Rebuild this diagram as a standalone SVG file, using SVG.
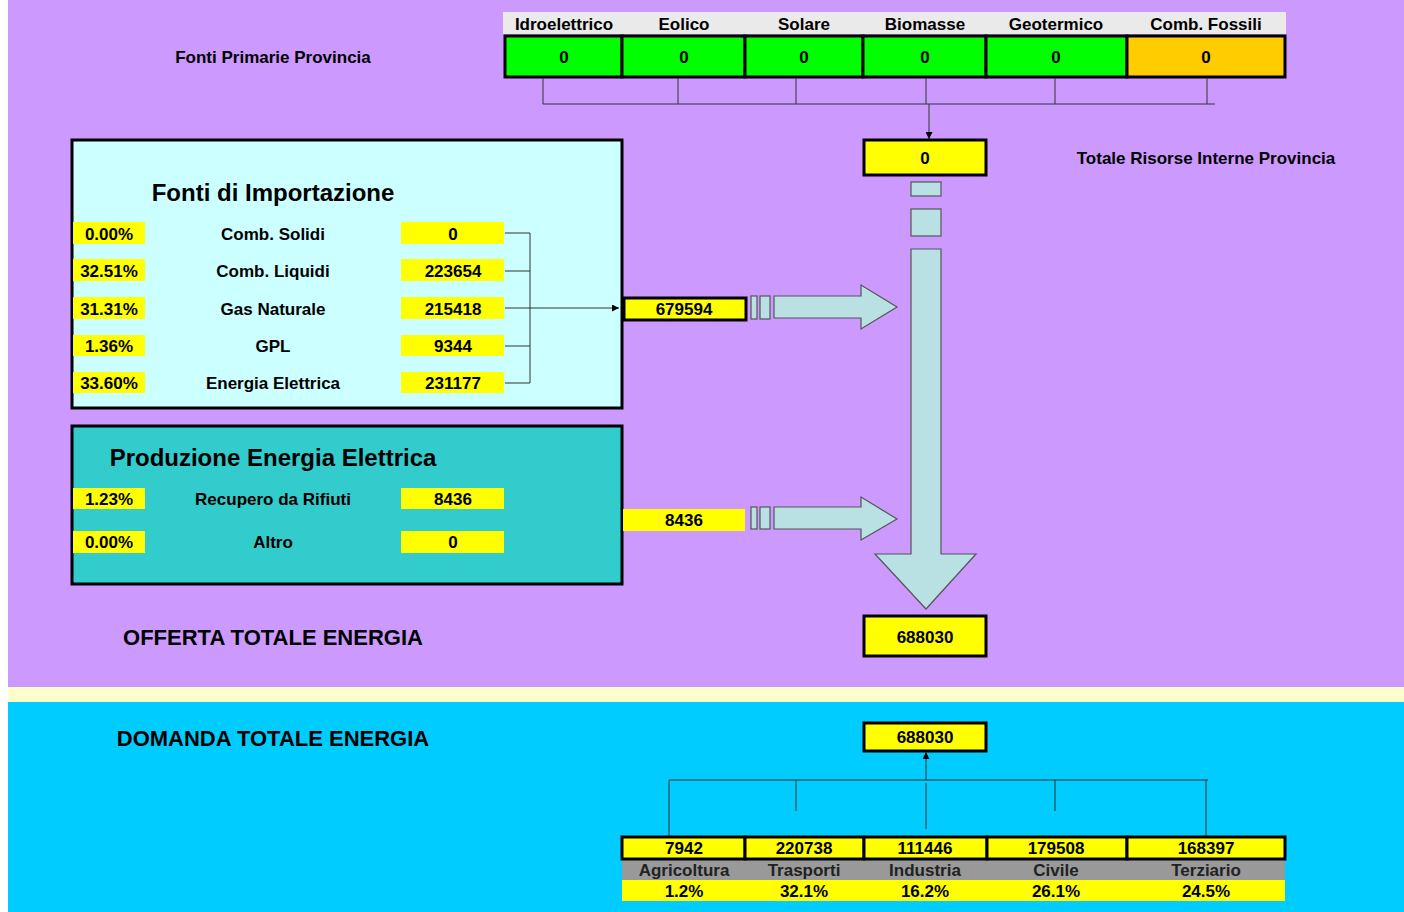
<svg xmlns="http://www.w3.org/2000/svg" width="1404" height="912" viewBox="0 0 1404 912">
<defs>
<marker id="ah" viewBox="0 0 8 8" refX="8" refY="4" markerWidth="7" markerHeight="7" markerUnits="userSpaceOnUse" orient="auto"><path d="M0,0 L8,4 L0,8 z" fill="#000"/></marker>
<style>
text{font-family:"Liberation Sans",Arial,sans-serif;font-weight:bold;fill:#000;text-anchor:middle}
.s{font-size:17px}
.t{font-size:24px}
.b{font-size:22px}
.cell{fill:#FFFF00;stroke:#000;stroke-width:3}
.green{fill:#00FF00;stroke:#000;stroke-width:3}
.orange{fill:#FFCC00;stroke:#000;stroke-width:3}
.y{fill:#FFFF00}
.ln{stroke:#333;stroke-width:1;fill:none}
.arr{fill:#B9E0E3;stroke:#555;stroke-width:1.2}
.gl{fill:#222}
</style>
</defs>
<rect x="0" y="0" width="1404" height="912" fill="#FFFFFF"/>
<rect x="8" y="0" width="1396" height="687" fill="#CC99FF"/>
<rect x="8" y="687" width="1396" height="15" fill="#FFFFCC"/>
<rect x="8" y="702" width="1396" height="210" fill="#00CCFF"/>

<g id="fonti-primarie">
<text class="s" x="273" y="63">Fonti Primarie Provincia</text>
<rect x="503" y="12" width="783" height="22" fill="#EAEAEA"/>
<text class="s" x="564" y="30">Idroelettrico</text>
<text class="s" x="684" y="30">Eolico</text>
<text class="s" x="804" y="30">Solare</text>
<text class="s" x="925" y="30">Biomasse</text>
<text class="s" x="1056" y="30">Geotermico</text>
<text class="s" x="1206" y="30">Comb. Fossili</text>
<rect class="green" x="505" y="36" width="117" height="41"/>
<rect class="green" x="622" y="36" width="123" height="41"/>
<rect class="green" x="745" y="36" width="118" height="41"/>
<rect class="green" x="863" y="36" width="123" height="41"/>
<rect class="green" x="986" y="36" width="141" height="41"/>
<rect class="orange" x="1127" y="36" width="158" height="41"/>
<text class="s" x="564" y="63">0</text>
<text class="s" x="684" y="63">0</text>
<text class="s" x="804" y="63">0</text>
<text class="s" x="925" y="63">0</text>
<text class="s" x="1056" y="63">0</text>
<text class="s" x="1206" y="63">0</text>
</g>

<g id="risorse-interne">
<rect class="cell" x="864" y="140" width="122" height="35"/>
<text class="s" x="925" y="164">0</text>
<text class="s" x="1206" y="164">Totale Risorse Interne Provincia</text>
</g>

<g id="importazione">
<rect x="72" y="140" width="550" height="268" fill="#CCFFFF" stroke="#000" stroke-width="3"/>
<text class="t" x="273" y="201">Fonti di Importazione</text>
<rect class="y" x="73" y="222" width="72" height="22"/>
<rect class="y" x="73" y="259" width="72" height="22"/>
<rect class="y" x="73" y="297" width="72" height="22"/>
<rect class="y" x="73" y="335" width="72" height="21"/>
<rect class="y" x="73" y="372" width="72" height="21"/>
<rect class="y" x="401" y="222" width="103" height="22"/>
<rect class="y" x="401" y="259" width="103" height="22"/>
<rect class="y" x="401" y="297" width="103" height="22"/>
<rect class="y" x="401" y="335" width="103" height="21"/>
<rect class="y" x="401" y="372" width="103" height="21"/>
<text class="s" x="109" y="240">0.00%</text>
<text class="s" x="109" y="277">32.51%</text>
<text class="s" x="109" y="315">31.31%</text>
<text class="s" x="109" y="352">1.36%</text>
<text class="s" x="109" y="389">33.60%</text>
<text class="s" x="273" y="240">Comb. Solidi</text>
<text class="s" x="273" y="277">Comb. Liquidi</text>
<text class="s" x="273" y="315">Gas Naturale</text>
<text class="s" x="273" y="352">GPL</text>
<text class="s" x="273" y="389">Energia Elettrica</text>
<text class="s" x="453" y="240">0</text>
<text class="s" x="453" y="277">223654</text>
<text class="s" x="453" y="315">215418</text>
<text class="s" x="453" y="352">9344</text>
<text class="s" x="453" y="389">231177</text>
</g>

<g id="produzione">
<rect x="72" y="426" width="550" height="158" fill="#33CCCC" stroke="#000" stroke-width="3"/>
<text class="t" x="273" y="466">Produzione Energia Elettrica</text>
<rect class="y" x="73" y="488" width="72" height="21"/>
<rect class="y" x="73" y="531" width="72" height="22"/>
<rect class="y" x="401" y="488" width="103" height="21"/>
<rect class="y" x="401" y="531" width="103" height="22"/>
<text class="s" x="109" y="505">1.23%</text>
<text class="s" x="109" y="548">0.00%</text>
<text class="s" x="273" y="505">Recupero da Rifiuti</text>
<text class="s" x="273" y="548">Altro</text>
<text class="s" x="453" y="505">8436</text>
<text class="s" x="453" y="548">0</text>
</g>

<g id="totale-importazione">
<rect class="cell" x="624" y="298" width="122" height="22"/>
<text class="s" x="684" y="315">679594</text>
</g>

<g id="totale-produzione">
<rect class="y" x="623" y="509" width="122" height="22"/>
<text class="s" x="684" y="526">8436</text>
</g>

<g id="offerta">
<text class="b" x="273" y="645">OFFERTA TOTALE ENERGIA</text>
<rect class="cell" x="864" y="616" width="122" height="40"/>
<text class="s" x="925" y="643">688030</text>
</g>

<g id="domanda">
<text class="b" x="273" y="746">DOMANDA TOTALE ENERGIA</text>
<rect class="cell" x="864" y="723" width="122" height="28"/>
<text class="s" x="925" y="743">688030</text>
</g>

<g id="settori">
<rect x="622" y="859" width="663" height="21" fill="#999999"/>
<rect class="y" x="622" y="880" width="663" height="21"/>
<rect class="cell" x="622" y="837" width="123" height="22"/>
<rect class="cell" x="745" y="837" width="119" height="22"/>
<rect class="cell" x="864" y="837" width="123" height="22"/>
<rect class="cell" x="987" y="837" width="140" height="22"/>
<rect class="cell" x="1127" y="837" width="158" height="22"/>
<text class="s" x="684" y="854">7942</text>
<text class="s" x="804" y="854">220738</text>
<text class="s" x="925" y="854">111446</text>
<text class="s" x="1056" y="854">179508</text>
<text class="s" x="1206" y="854">168397</text>
<text class="s gl" x="684" y="876">Agricoltura</text>
<text class="s gl" x="804" y="876">Trasporti</text>
<text class="s gl" x="925" y="876">Industria</text>
<text class="s gl" x="1056" y="876">Civile</text>
<text class="s gl" x="1206" y="876">Terziario</text>
<text class="s" x="684" y="897">1.2%</text>
<text class="s" x="804" y="897">32.1%</text>
<text class="s" x="925" y="897">16.2%</text>
<text class="s" x="1056" y="897">26.1%</text>
<text class="s" x="1206" y="897">24.5%</text>
</g>

<g id="connectors">
<path class="ln" d="M543,78 V104 M678,78 V104 M796,78 V104 M926,78 V104 M1055,78 V104 M1207,78 V104 M543,104 H1215"/>
<path class="ln" d="M929,104 V139" marker-end="url(#ah)"/>
<path class="ln" d="M505,233 H530 M505,271 H530 M505,346 H530 M505,383 H530 M530,233 V383"/>
<path class="ln" d="M505,308 H619" marker-end="url(#ah)"/>
<rect class="arr" x="751" y="296" width="6" height="23"/>
<rect class="arr" x="760" y="296" width="10" height="23"/>
<path class="arr" d="M774,296 H861 V285 L897,307 L861,329 V318 H774 Z"/>
<rect class="arr" x="751" y="507" width="6" height="22"/>
<rect class="arr" x="760" y="507" width="10" height="22"/>
<path class="arr" d="M774,507 H861 V497 L897,519 L861,540 V529 H774 Z"/>
<rect class="arr" x="911" y="182" width="30" height="14"/>
<rect class="arr" x="911" y="209" width="30" height="27"/>
<path class="arr" d="M911,249 H941 V554 H976 L926,609 L875,554 H911 Z"/>
<path class="ln" d="M669,780 H1208 M669,780 V836 M796,780 V811 M1055,780 V811 M1206,780 V836 M926,783 V829"/>
<path class="ln" d="M926,780 V752" stroke-width="1.5" marker-end="url(#ah)"/>
</g>
</svg>
